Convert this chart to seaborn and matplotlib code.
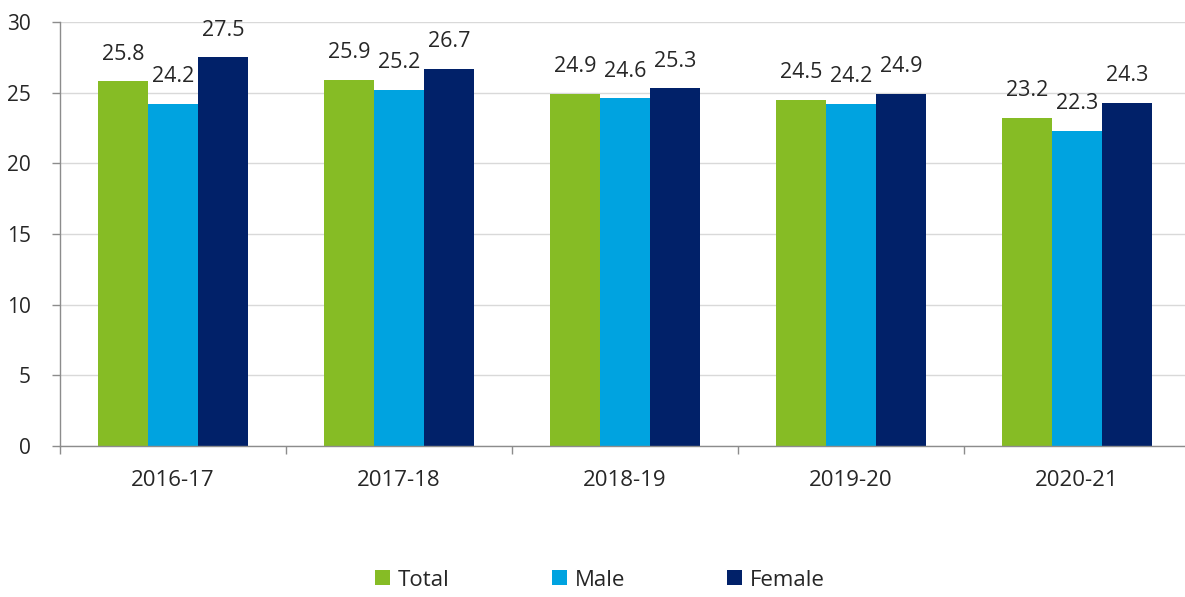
import matplotlib
matplotlib.use("Agg")
import matplotlib.pyplot as plt
import seaborn as sns
import pandas as pd
from matplotlib.ticker import FixedLocator

years = ["2016-17", "2017-18", "2018-19", "2019-20", "2020-21"]
series = ["Total", "Male", "Female"]
total = [25.8, 25.9, 24.9, 24.5, 23.2]
male = [24.2, 25.2, 24.6, 24.2, 22.3]
female = [27.5, 26.7, 25.3, 24.9, 24.3]
colors = ["#86BC25", "#00A3E0", "#012169"]

df = pd.DataFrame({
    "year": years * 3,
    "group": [s for s in series for _ in years],
    "value": total + male + female,
})

sns.set_theme(style="white")
plt.rcParams["font.family"] = ["Open Sans", "DejaVu Sans"]
text_color = "#262626"

fig = plt.figure(figsize=(11.85, 5.97), dpi=100)
ax = fig.add_axes([60 / 1185, 1 - 446 / 597, 1130 / 1185, (446 - 22) / 597])

sns.barplot(data=df, x="year", y="value", hue="group", hue_order=series,
            palette=colors, saturation=1, width=0.664, linewidth=0,
            errorbar=None, ax=ax)

for cont in ax.containers:
    ax.bar_label(cont, fmt="%.1f", padding=12, fontsize=15.5, color=text_color)

ax.set_ylim(0, 30)
ax.set_yticks(range(0, 31, 5))
ax.set_xlim(-0.5, 4.5)
ax.set_xlabel("")
ax.set_ylabel("")
ax.yaxis.grid(True, color="#D9D9D9", linewidth=1)
ax.set_axisbelow(True)

for side in ["top", "right"]:
    ax.spines[side].set_visible(False)
for side in ["left", "bottom"]:
    ax.spines[side].set_color("#8C8C8C")
    ax.spines[side].set_linewidth(1)

ax.tick_params(axis="y", which="major", length=6, width=1, color="#8C8C8C",
               direction="out", left=True, pad=15, labelsize=15,
               labelcolor=text_color)
ax.tick_params(axis="x", which="major", length=0, pad=17, labelsize=16,
               labelcolor=text_color)
ax.xaxis.set_minor_locator(FixedLocator([i - 0.5 for i in range(len(years) + 1)]))
ax.tick_params(axis="x", which="minor", length=6, width=1, color="#8C8C8C",
               direction="out", bottom=True)

leg = ax.legend(loc="center", bbox_to_anchor=(600 / 1185, 1 - 580 / 597),
                bbox_transform=fig.transFigure, ncol=3, frameon=False,
                fontsize=16, handlelength=0.68, handleheight=0.68,
                handletextpad=0.35, columnspacing=4.6)
for t in leg.get_texts():
    t.set_color(text_color)

fig.savefig("out.png", dpi=100)
